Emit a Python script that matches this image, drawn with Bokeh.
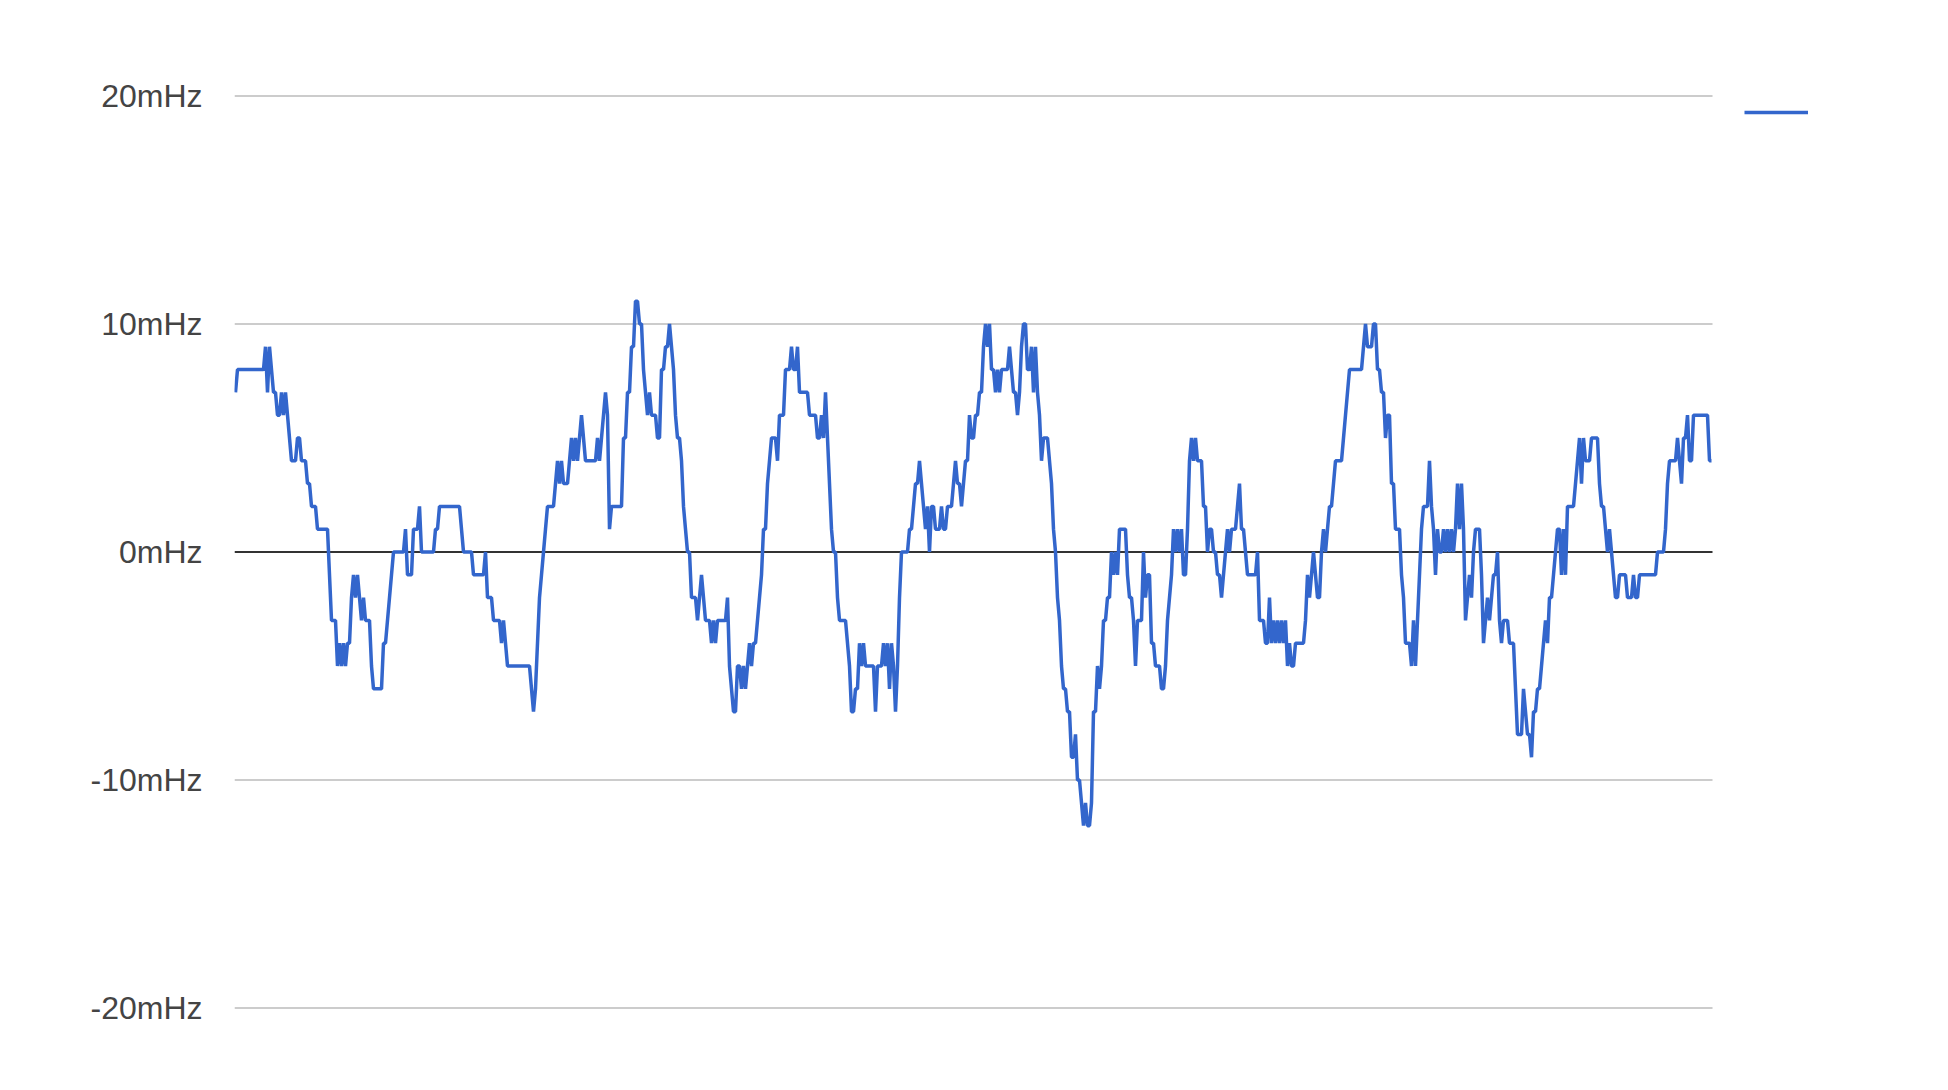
import numpy as np
from bokeh.plotting import figure
from bokeh.models import Range1d, FixedTicker, Legend, LegendItem
from bokeh.embed import file_html
from bokeh.resources import INLINE

# ---- data: frequency deviation (mHz), piecewise-constant per sample ----
n_samples = 739

# sample index where each new level starts, and the level in mHz (segment by segment)
start_a = [0, 1, 15, 16, 17, 18, 19, 21, 23, 24,
           25, 26, 27, 28, 31, 33, 36, 38, 41, 47,
           48, 51, 52, 53, 54, 55, 56, 58, 59, 60,
           61, 62, 63, 64, 65, 68, 69, 74, 76, 77,
           78, 79, 85, 86, 89, 92, 93, 100, 102, 113,
           114, 119]
mhz_a = [7, 8, 9, 7, 9, 8, 7, 6, 7, 6,
         7, 6, 5, 4, 5, 4, 3, 2, 1, -1,
         -3, -5, -4, -5, -4, -5, -4, -2, -1, -2,
         -1, -2, -3, -2, -3, -5, -6, -4, -3, -2,
         -1, 0, 1, -1, 1, 2, 0, 1, 2, 1,
         0, -1]

start_b = [125, 126, 129, 133, 134, 135, 136, 148, 149, 150,
           151, 152, 153, 154, 155, 156, 160, 161, 162, 163,
           164, 167, 168, 169, 170, 171, 172, 173, 174, 175,
           181, 182, 183, 184, 185, 186, 187, 188, 194, 196,
           198, 200, 202, 204, 205, 206, 207, 208, 211, 213,
           215, 217, 218, 219, 220, 221, 223, 224, 225, 226,
           228, 231, 232, 233, 234, 235, 238, 239, 240, 241]
mhz_b = [0, -2, -3, -4, -3, -4, -5, -6, -7, -6,
         -4, -2, -1, 0, 1, 2, 3, 4, 3, 4,
         3, 4, 5, 4, 5, 4, 5, 6, 5, 4,
         5, 4, 5, 6, 7, 6, 1, 2, 5, 7,
         9, 11, 10, 8, 7, 6, 7, 6, 5, 8,
         9, 10, 9, 8, 6, 5, 4, 2, 1, 0,
         -2, -3, -2, -1, -2, -3, -4, -3, -4, -3]

start_c = [246, 247, 248, 249, 251, 253, 254, 255, 256, 257,
           258, 259, 261, 262, 263, 264, 266, 267, 268, 271,
           272, 275, 278, 279, 281, 282, 287, 291, 293, 294,
           295, 296, 297, 298, 299, 301, 302, 306, 307, 308,
           310, 312, 313, 314, 315, 320, 321, 324, 325, 326,
           327, 328, 329, 330, 331, 332, 333, 337, 339, 340,
           342, 343, 344, 345, 346, 347, 348, 350, 353, 354,
           356]
mhz_c = [-2, -5, -6, -7, -5, -6, -5, -6, -5, -4,
         -5, -4, -3, -2, -1, 1, 3, 4, 5, 4,
         6, 8, 9, 8, 9, 7, 6, 5, 6, 5,
         7, 5, 3, 1, 0, -2, -3, -4, -5, -7,
         -6, -4, -5, -4, -5, -7, -5, -4, -5, -4,
         -6, -4, -5, -7, -5, -2, 0, 1, 2, 3,
         4, 3, 2, 1, 2, 0, 2, 1, 2, 1,
         2]

start_d = [359, 360, 361, 363, 364, 365, 367, 368, 370, 372,
           374, 375, 376, 377, 378, 380, 381, 382, 383, 387,
           388, 389, 391, 392, 393, 394, 396, 398, 399, 400,
           401, 402, 403, 404, 407, 408, 409, 410, 411, 412,
           413, 414, 416, 418, 420, 421, 423, 424, 425, 426,
           428, 429, 431, 432, 433, 434, 436, 438, 439, 440,
           441, 442, 446, 447, 449, 450, 451, 454, 455, 456,
           458, 460, 463, 465, 466, 467, 468, 469, 470, 471,
           472, 473, 474, 476, 477, 478, 479, 480, 481]
mhz_d = [3, 4, 3, 2, 3, 4, 6, 5, 6, 7,
         9, 10, 9, 10, 8, 7, 8, 7, 8, 9,
         8, 7, 6, 7, 9, 10, 8, 9, 7, 9,
         7, 6, 4, 5, 4, 3, 1, 0, -2, -3,
         -5, -6, -7, -9, -8, -10, -11, -12, -11, -12,
         -11, -7, -5, -6, -5, -3, -2, 0, -1, 0,
         -1, 1, -1, -2, -3, -5, -3, 0, -2, -1,
         -4, -5, -6, -5, -3, -2, -1, 1, 0, 1,
         0, 1, -1, 1, 4, 5, 4, 5, 4]

start_e = [484, 486, 487, 489, 491, 493, 494, 495, 496, 497,
           498, 501, 502, 503, 505, 506, 511, 512, 515, 517,
           518, 519, 520, 521, 522, 523, 524, 525, 526, 527,
           528, 530, 535, 536, 537, 538, 539, 540, 541, 543,
           544, 545, 546, 547, 549, 550, 554, 555, 556, 557,
           564, 565, 566, 569, 571, 573, 575, 576, 578, 580,
           583, 584, 585, 588, 589, 590, 591, 592, 593, 594,
           597]
mhz_e = [2, 0, 1, 0, -1, -2, -1, 0, 1, 0,
         1, 2, 3, 1, 0, -1, 0, -3, -4, -2,
         -4, -3, -4, -3, -4, -3, -4, -3, -5, -4,
         -5, -4, -3, -1, -2, -1, 0, -1, -2, 0,
         1, 0, 1, 2, 3, 4, 5, 6, 7, 8,
         9, 10, 9, 10, 8, 7, 5, 6, 3, 1,
         -1, -2, -4, -5, -3, -5, -3, -1, 1, 2,
         4]

start_f = [598, 599, 600, 601, 602, 604, 605, 606, 607, 608,
           609, 610, 611, 612, 613, 614, 615, 616, 617, 618,
           619, 620, 623, 624, 625, 626, 627, 628, 629, 631,
           632, 633, 634, 637, 640, 641, 644, 645, 646, 648,
           649, 651, 653, 654, 655, 656, 657, 659, 660, 661,
           663, 664, 665, 666, 670, 671, 672, 673, 674, 675,
           678, 682, 683, 685, 686, 687, 688, 689, 690, 692,
           696, 699, 700, 702, 711, 715, 716, 717, 721, 722,
           723, 724, 726, 727, 729, 737]
mhz_f = [2, 1, -1, 1, 0, 1, 0, 1, 0, 1,
         0, 1, 3, 1, 3, 1, -3, -2, -1, -2,
         0, 1, -1, -4, -3, -2, -3, -2, -1, 0,
         -3, -4, -3, -4, -6, -8, -6, -7, -8, -9,
         -7, -6, -5, -4, -3, -4, -2, -1, 0, 1,
         -1, 1, -1, 2, 3, 4, 5, 3, 5, 4,
         5, 3, 2, 1, 0, 1, 0, -1, -2, -1,
         -2, -1, -2, -1, 0, 1, 3, 4, 5, 4,
         3, 5, 6, 4, 6, 4]

y_ticks = [-20, -10, 0, 10, 20]
y_tick_labels = ["-20mHz", "-10mHz", "0mHz", "10mHz", "20mHz"]
series_name = " "

# ---- decode the piecewise levels into one value per sample ----
step_start = start_a + start_b + start_c + start_d + start_e + start_f
step_mhz = mhz_a + mhz_b + mhz_c + mhz_d + mhz_e + mhz_f
assert len(step_start) == len(step_mhz)
run_len = np.diff(step_start + [n_samples])
values = np.repeat(np.array(step_mhz), run_len)
x = np.arange(n_samples)

FONT = "Liberation Sans"
PX_PER_SAMPLE = 2
chart_w = n_samples * PX_PER_SAMPLE          # 1478 px chart area
extra_w = 120                                  # room on the right for the legend
x_lo, x_hi = -0.5, n_samples - 0.5

p = figure(
    frame_width=chart_w + extra_w, frame_height=935,
    min_border_left=234, min_border_right=98,
    min_border_top=84, min_border_bottom=50,
    x_range=Range1d(x_lo, x_hi + extra_w / PX_PER_SAMPLE),
    y_range=Range1d(-20.5, 20.5),
    x_axis_type=None,
    output_backend="svg", toolbar_location=None,
)
p.outline_line_color = None
p.background_fill_color = "white"
p.border_fill_color = "white"

ax = p.yaxis[0]
ax.ticker = FixedTicker(ticks=y_ticks)
ax.major_label_overrides = {t: l for t, l in zip(y_ticks, y_tick_labels)}
ax.axis_line_color = None
ax.major_tick_line_color = None
ax.minor_tick_line_color = None
ax.major_tick_out = 0
ax.major_tick_in = 0
ax.major_label_standoff = 32
ax.major_label_text_font = FONT
ax.major_label_text_font_size = "32px"
ax.major_label_text_color = "#444444"

# gridlines limited to the chart area (not under the legend)
p.xgrid.visible = False
p.ygrid.visible = False
grid_y = [t for t in y_ticks if t != 0]
p.segment(x0=[x_lo] * len(grid_y), x1=[x_hi] * len(grid_y), y0=grid_y, y1=grid_y,
          line_color="#cccccc", line_width=2)
p.segment(x0=[x_lo], x1=[x_hi], y0=[0], y1=[0], line_color="#333333", line_width=2)

series = p.line(x, values, line_color="#3366cc", line_width=3.5)

legend = Legend(
    items=[LegendItem(label=series_name, renderers=[series])],
    location=(1510, 897),
    glyph_width=64, glyph_height=20,
    padding=0, margin=0, spacing=0,
    label_standoff=0, label_width=0, label_height=0,
    label_text_font_size="1px",
    border_line_color=None, background_fill_alpha=0,
)
p.add_layout(legend)

open("out.html", "w").write(file_html(p, INLINE))
